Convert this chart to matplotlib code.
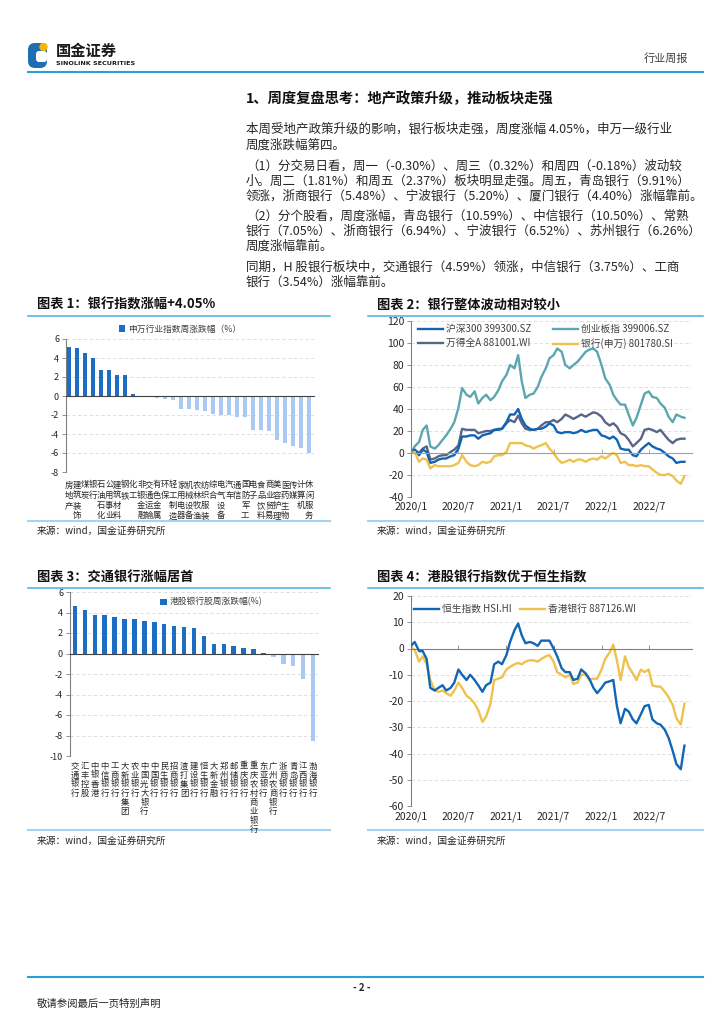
import numpy as np
import pandas as pd
import matplotlib
matplotlib.use("Agg")
import matplotlib.pyplot as plt
import matplotlib.transforms as mtransforms
from matplotlib.patches import FancyBboxPatch, Circle

plt.rcParams['font.family'] = ['Noto Sans CJK SC', 'DejaVu Sans']
plt.rcParams['axes.unicode_minus'] = False

# ---------------- data ----------------
# chart 1: SW level-1 industries, weekly change (%)
sw_names = ['房地产', '建筑装饰', '煤炭', '银行', '石油石化', '公用事业', '建筑材料', '钢铁',
            '化工', '非银金融', '交通运输', '有色金属', '环保', '轻工制造', '家用电器', '机械设备',
            '农林牧渔', '纺织服装', '综合', '电气设备', '汽车', '通信', '国防军工', '电子',
            '食品饮料', '商业贸易', '美容护理', '医药生物', '传媒', '计算机', '休闲服务']
sw_chg = [5.19, 5.09, 4.52, 4.05, 2.72, 2.72, 2.26, 2.23, 0.25, 0.02, -0.03, -0.21, -0.28,
          -0.46, -1.38, -1.41, -1.45, -1.59, -1.94, -2.01, -2.01, -2.23, -2.26, -3.57, -3.6,
          -3.64, -4.66, -4.91, -5.3, -5.51, -6.05]

# chart 3: HK listed banks, weekly change (%)
hk_names = ['交通银行', '汇丰控股', '中银香港', '中信银行', '工商银行', '大新银行集团', '农业银行',
            '中国光大银行', '中国银行', '民生银行', '招商银行', '渣打集团', '建设银行', '恒生银行',
            '大新金融', '郑州银行', '邮储银行', '重庆银行', '重庆农村商业银行', '东亚银行',
            '广州农商银行', '浙商银行', '青岛银行', '江西银行', '渤海银行']
hk_chg = [4.59, 4.2, 3.76, 3.75, 3.54, 3.38, 3.32, 3.16, 3.03, 2.83, 2.64, 2.54, 2.44, 1.66,
          0.94, 0.94, 0.71, 0.55, 0.41, 0.02, -0.37, -1.06, -1.19, -2.46, -8.54]

# chart 2 / chart 4: cumulative change (%) read semi-monthly from the picture
dates = pd.date_range('2020-01-01', periods=70, freq='SMS')
hs300 = [0, 3, -2, 3, 1, -9, -8, -6, -5, -5, -3, -2, 4, 15, 15, 16, 16, 13, 16, 17,
         18, 21, 21, 22, 28, 35, 35, 40, 31, 25, 22, 21, 22, 22, 24, 27, 25, 19, 18, 19,
         19, 18, 19, 21, 19, 20, 21, 21, 16, 15, 13, 15, 12, 4, 3, 3, -2, -3, 3, 6,
         9, 6, 4, 3, 0, -3, -5, -9, -8, -8]
cyb = [0, 6, 10, 21, 25, 6, 4, 7, 12, 16, 22, 28, 41, 59, 53, 51, 56, 45, 50, 53,
       48, 51, 57, 65, 71, 80, 77, 89, 65, 50, 53, 54, 60, 69, 77, 86, 89, 95, 92, 80,
       77, 80, 83, 87, 92, 94, 95, 92, 80, 68, 62, 53, 48, 44, 44, 35, 25, 32, 44, 54,
       56, 51, 50, 45, 41, 33, 28, 35, 33, 32]
wind_a = [0, 3, 0, 4, 6, -6, -5, -3, -2, -2, 1, 3, 7, 22, 21, 21, 21, 18, 19, 20,
          20, 21, 22, 22, 27, 30, 28, 34, 27, 22, 21, 21, 22, 25, 28, 28, 30, 28, 31, 35,
          33, 31, 33, 35, 33, 35, 37, 36, 33, 28, 25, 27, 24, 18, 16, 12, 6, 9, 13, 21,
          22, 21, 19, 21, 16, 12, 9, 12, 13, 13]
bank_sw = [0, 1, -8, -5, -6, -14, -11, -12, -12, -12, -12, -11, -9, -2, -8, -11, -12, -11, -8, -9,
           -8, -3, -2, -2, 1, 9, 9, 9, 9, 7, 6, 4, 6, 7, 9, 4, 0, -5, -9, -8,
           -6, -8, -6, -6, -8, -6, -5, -6, -3, -5, -2, 0, -2, -9, -8, -11, -11, -12, -11, -12,
           -12, -15, -18, -20, -20, -19, -21, -25, -28, -21]

hsi = [1, 2.5, -1, -1, -4, -15, -16, -15, -14, -16, -15, -13, -8, -10, -12, -10, -12, -14, -16.5, -14,
       -13, -6, -5, -6, -2.5, 2.5, 7, 9.5, 5, 2, 2.5, 2, 1, 3, 3, 3, 0, -3, -7.5, -9,
       -9, -12, -11.5, -8, -9.5, -11.5, -15, -17, -15, -13, -12.5, -12, -22, -28.5, -23, -24, -27, -28.5, -25, -22,
       -21.5, -27, -28.5, -29, -31, -34, -39, -44, -46, -37]
hk_bank = [0.5, -0.5, -5, -3, -6, -12, -16, -16.5, -16, -17, -18, -16, -13, -15, -18, -19, -21, -23.5, -28, -26,
           -21, -12, -11.5, -11, -8, -7, -6, -5.5, -6, -5, -4.5, -4.5, -5, -4, -3, -2.5, -5, -9, -10, -11,
           -10, -13.5, -13, -10, -10, -12, -11.5, -11.5, -8, -4, -1.5, 1.5, -4.5, -12, -3, -7, -9.5, -12, -8, -9,
           -8, -14, -14.5, -14.5, -16.5, -18.5, -21.5, -26.5, -29, -21]

date_ticks = pd.to_datetime(['2020-01-01', '2020-07-01', '2021-01-01', '2021-07-01', '2022-01-01', '2022-07-01'])
date_labels = ['2020/1', '2020/7', '2021/1', '2021/7', '2022/1', '2022/7']

# ---------------- page ----------------
W, H = 724, 1024
DARK = '#1b6ec2'
LIGHT = '#a9c9f2'
TXT = '#262626'
GRID = '#d9d9d9'


def box(x0, y0, x1, y1):
    return [x0 / W, 1 - y1 / H, (x1 - x0) / W, (y1 - y0) / H]


def fig_pt(x, y):
    return (x / W, 1 - y / H)


fig = plt.figure(figsize=(7.24, 10.24), dpi=100)
pg = fig.add_axes([0, 0, 1, 1])
pg.set_xlim(0, W)
pg.set_ylim(H, 0)
pg.axis('off')

# header
pg.add_patch(FancyBboxPatch((28, 43), 19, 25, boxstyle='round,pad=0,rounding_size=7', fc='#1f6db3', ec='none'))
pg.add_patch(FancyBboxPatch((36, 51), 11, 11, boxstyle='round,pad=0,rounding_size=3', fc='white', ec='none'))
pg.add_patch(Circle((43.5, 47), 4.2, fc='#f2b705', ec='none'))
pg.text(56, 51, '国金证券', fontsize=11, fontweight='bold', color='#1a1a1a', va='center')
pg.text(56, 63.5, 'SINOLINK SECURITIES', fontsize=4.6, fontweight='bold', color='#1a1a1a', va='center',
        family='DejaVu Sans')
pg.text(688, 59, '行业周报', fontsize=8, color='#404040', ha='right', va='center')
pg.plot([28, 703], [72, 72], color='#2a9fd8', lw=1.5)

# section text
pg.text(246, 99, '1、周度复盘思考：地产政策升级，推动板块走强', fontsize=10.3, fontweight='bold',
        color='#111111', va='center')
body = [
    (129, '本周受地产政策升级的影响，银行板块走强，周度涨幅 4.05%，申万一级行业'),
    (145, '周度涨跌幅第四。'),
    (166, '（1）分交易日看，周一（-0.30%）、周三（0.32%）和周四（-0.18%）波动较'),
    (181, '小。周二（1.81%）和周五（2.37%）板块明显走强。周五，青岛银行（9.91%）'),
    (196, '领涨，浙商银行（5.48%）、宁波银行（5.20%）、厦门银行（4.40%）涨幅靠前。'),
    (216, '（2）分个股看，周度涨幅，青岛银行（10.59%）、中信银行（10.50%）、常熟'),
    (231, '银行（7.05%）、浙商银行（6.94%）、宁波银行（6.52%）、苏州银行（6.26%）'),
    (246, '周度涨幅靠前。'),
    (267, '同期，H 股银行板块中，交通银行（4.59%）领涨，中信银行（3.75%）、工商'),
    (282, '银行（3.54%）涨幅靠前。'),
]
for yy, line in body:
    pg.text(246, yy, line, fontsize=9.0, color=TXT, va='center')


def frame(x0, x1, y_title, y_top, y_bot, y_src, title):
    pg.text(x0 + 9, y_title, title, fontsize=9.5, fontweight='bold', color='#111111', va='center')
    pg.plot([x0, x1], [y_top, y_top], color='#45aee8', lw=1.1)
    pg.plot([x0, x1], [y_bot, y_bot], color='#a3d4f2', lw=1.5)
    pg.text(x0 + 9, y_src, '来源：wind，国金证券研究所', fontsize=7, color=TXT, va='center')


frame(28, 330, 305, 316, 521, 531, '图表 1：银行指数涨幅+4.05%')
frame(368, 703, 305, 316, 521, 531, '图表 2：银行整体波动相对较小')
frame(28, 330, 578, 588, 830, 841, '图表 3：交通银行涨幅居首')
frame(368, 703, 578, 588, 830, 841, '图表 4：港股银行指数优于恒生指数')

# footer
pg.plot([28, 703], [977, 977], color='#2a9fd8', lw=1.5)
pg.text(362, 988, '- 2 -', fontsize=7, fontweight='bold', color=TXT, ha='center', va='center')
pg.text(37, 1004, '敬请参阅最后一页特别声明', fontsize=7.5, color=TXT, va='center')


def style_bar_axis(ax, lo, hi):
    ax.set_ylim(lo, hi)
    ax.set_yticks(range(lo, hi + 1, 2))
    for s in ['top', 'right']:
        ax.spines[s].set_visible(False)
    ax.spines['bottom'].set_position(('data', 0))
    ax.spines['bottom'].set_color('#404040')
    ax.spines['left'].set_color('#808080')
    ax.tick_params(axis='x', length=0, labelbottom=False)
    ax.tick_params(axis='y', length=3, width=0.6, color='#808080', labelsize=6.5, labelcolor=TXT, pad=2)
    ax.yaxis.grid(True, ls=(0, (4, 3)), color=GRID, lw=0.6)
    ax.set_axisbelow(True)


# vertical category names: one character per row, rows at a fixed pixel step
def bar_labels(ax, names, first_px, step_px, fs):
    tr = mtransforms.blended_transform_factory(ax.transData, ax.transAxes)
    for i, name in enumerate(names):
        for j, ch in enumerate(name):
            off = mtransforms.offset_copy(tr, fig=fig, x=0, y=-(first_px + j * step_px) * 0.72, units='points')
            ax.text(i, 0, ch, transform=off, ha='center', va='baseline', fontsize=fs, color=TXT)


# ---------------- chart 1 ----------------
ax1 = fig.add_axes(box(66, 339, 314, 472))
x1 = np.arange(len(sw_names))
bars1 = ax1.bar(x1, sw_chg, width=0.5, color=[DARK if v > 0 else LIGHT for v in sw_chg])
ax1.set_xlim(-0.41, len(sw_names) - 0.4)
style_bar_axis(ax1, -8, 6)
bar_labels(ax1, sw_names, 15.5, 10.3, 6)
ax1.legend([bars1], ['申万行业指数周涨跌幅（%）'], loc='center', bbox_to_anchor=fig_pt(180, 329),
           bbox_transform=fig.transFigure, frameon=False, fontsize=6.3, handlelength=0.7,
           handleheight=0.7, handletextpad=0.4, borderpad=0, labelcolor='#404040')

# ---------------- chart 3 ----------------
ax3 = fig.add_axes(box(70, 592, 318, 756))
x3 = np.arange(len(hk_names))
bars3 = ax3.bar(x3, hk_chg, width=0.45, color=[DARK if v > 0 else LIGHT for v in hk_chg])
ax3.set_xlim(-0.5, len(hk_names) - 0.5)
style_bar_axis(ax3, -10, 6)
bar_labels(ax3, hk_names, 12.5, 9.1, 6)
ax3.legend([bars3], ['港股银行股周涨跌幅(%)'], loc='center left', bbox_to_anchor=fig_pt(156, 602),
           bbox_transform=fig.transFigure, frameon=False, fontsize=6.3, handlelength=0.7,
           handleheight=0.7, handletextpad=0.4, borderpad=0, labelcolor='#404040')


def style_line_axis(ax, lo, hi, step, zero_color):
    ax.set_ylim(lo, hi)
    ax.set_yticks(range(lo, hi + 1, step))
    ax.set_xlim(pd.Timestamp('2020-01-01'), pd.Timestamp('2022-12-14'))
    for s in ['top', 'right']:
        ax.spines[s].set_visible(False)
    ax.spines['bottom'].set_position(('data', 0))
    ax.spines['bottom'].set_color(zero_color)
    ax.spines['left'].set_color('#808080')
    ax.set_xticks(date_ticks)
    ax.tick_params(axis='x', direction='in', length=3, width=0.6, color=zero_color, labelbottom=False)
    ax.tick_params(axis='y', length=3, width=0.6, color='#808080', labelsize=7.5, labelcolor=TXT, pad=2)
    ax.yaxis.grid(True, ls=(0, (4, 3)), color=GRID, lw=0.6)
    ax.set_axisbelow(True)
    tr = mtransforms.blended_transform_factory(ax.transData, ax.transAxes)
    for d, lab in zip(date_ticks, date_labels):
        ax.text(d, -0.025, lab, transform=tr, ha='center', va='top', fontsize=7.5, color=TXT)


# ---------------- chart 2 ----------------
ax2 = fig.add_axes(box(411, 321, 692, 497))
l_cyb, = ax2.plot(dates, cyb, color='#5ba6b1', lw=1.7, label='创业板指 399006.SZ')
l_wind, = ax2.plot(dates, wind_a, color='#5a6488', lw=1.7, label='万得全A 881001.WI')
l_hs, = ax2.plot(dates, hs300, color='#0f64b4', lw=1.7, label='沪深300 399300.SZ')
l_bank, = ax2.plot(dates, bank_sw, color='#f0c14e', lw=1.7, label='银行(申万) 801780.SI')
style_line_axis(ax2, -40, 120, 20, '#a0a0a0')
ax2.legend([l_hs, l_wind, l_cyb, l_bank], [l.get_label() for l in [l_hs, l_wind, l_cyb, l_bank]],
           ncol=2, loc='upper left', bbox_to_anchor=fig_pt(418, 324), bbox_transform=fig.transFigure,
           frameon=False, fontsize=7, handlelength=2.6, handletextpad=0.3, columnspacing=2.2,
           labelspacing=0.45, borderpad=0, borderaxespad=0, labelcolor='#404040')

# ---------------- chart 4 ----------------
ax4 = fig.add_axes(box(411, 596, 692, 806))
l_hsi, = ax4.plot(dates, hsi, color='#1266b3', lw=1.7, label='恒生指数 HSI.HI')
l_hkb, = ax4.plot(dates, hk_bank, color='#f0c14e', lw=1.7, label='香港银行 887126.WI')
ax4.lines[0].set_zorder(3)
style_line_axis(ax4, -60, 20, 10, '#808080')
ax4.legend(ncol=2, loc='upper left', bbox_to_anchor=fig_pt(414, 604), bbox_transform=fig.transFigure,
           frameon=False, fontsize=7, handlelength=2.6, handletextpad=0.3, columnspacing=0.8,
           borderpad=0, borderaxespad=0, labelcolor='#404040')

fig.savefig('out.png', dpi=100)
